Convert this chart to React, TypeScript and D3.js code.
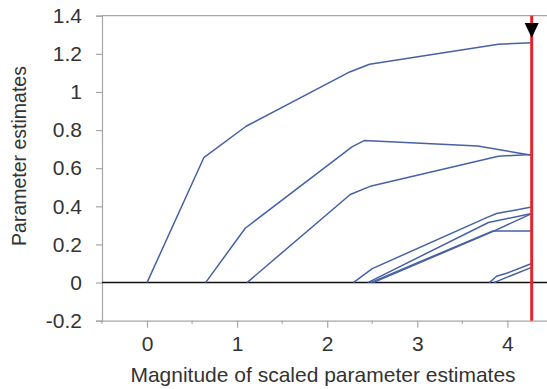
import React, { useRef, useEffect } from 'react';
import * as d3 from 'd3';

// lasso path of each coefficient: [magnitude, estimate]
const pathA: [number, number][] = [[0, 0], [0.63, 0.655], [1.1, 0.82], [2.25, 1.105], [2.47, 1.145], [3.9, 1.25], [4.27, 1.258]];
const pathB: [number, number][] = [[0.65, 0], [1.09, 0.285], [2.275, 0.712], [2.41, 0.745], [3.67, 0.717], [4.27, 0.668]];
const pathC: [number, number][] = [[1.11, 0], [2.256, 0.462], [2.49, 0.507], [3.9, 0.663], [4.27, 0.672]];
const pathD: [number, number][] = [[2.29, 0], [2.5, 0.073], [3.77, 0.341], [3.88, 0.362], [4.27, 0.397]];
const pathE: [number, number][] = [[2.45, 0], [3.79, 0.315], [4.27, 0.362]];
const pathF: [number, number][] = [[2.48, 0], [3.84, 0.271], [4.27, 0.271]];
const pathG: [number, number][] = [[2.51, 0], [3.83, 0.266], [4.27, 0.362]];
const pathH: [number, number][] = [[3.8, 0], [3.88, 0.033], [4.0, 0.05], [4.27, 0.1]];
const pathI: [number, number][] = [[3.85, 0], [4.27, 0.08]];
const paths = [pathA, pathB, pathC, pathD, pathE, pathF, pathG, pathH, pathI];

const yTicks = [-0.2, 0, 0.2, 0.4, 0.6, 0.8, 1, 1.2, 1.4];
const xMajor = [0, 1, 2, 3, 4];
const xMinor = [-0.5, 0.5, 1.5, 2.5, 3.5];
const selected = 4.27;

const W = 547;
const H = 389;

export default function App() {
  const svgRef = useRef<SVGSVGElement>(null);

  useEffect(() => {
    const svg = d3.select(svgRef.current);
    svg.selectAll('*').remove();

    const x = d3.scaleLinear().domain([-0.5, 4.44]).range([102, 547]);
    const y = d3.scaleLinear().domain([-0.2, 1.4]).range([320.7, 15.7]);
    const axisColor = '#a6a6a6';
    const textColor = '#333';
    const font = 'Liberation Sans, Arial, sans-serif';

    // top border
    svg.append('line')
      .attr('x1', x(-0.5)).attr('x2', W)
      .attr('y1', y(1.4)).attr('y2', y(1.4))
      .attr('stroke', axisColor).attr('stroke-width', 1.2);

    // y axis
    const yAxis = svg.append('g')
      .attr('transform', `translate(${x(-0.5)},0)`)
      .call(d3.axisLeft(y).tickValues(yTicks).tickSize(6).tickPadding(14).tickFormat(d => String(+d)));
    yAxis.selectAll('.domain, .tick line').attr('stroke', axisColor).attr('stroke-width', 1.2);
    yAxis.selectAll('text')
      .attr('fill', textColor).style('font-size', '21px').style('font-family', font);

    // x axis
    const xAxis = svg.append('g')
      .attr('transform', `translate(0,${y(-0.2)})`)
      .call(d3.axisBottom(x).tickValues(xMajor).tickSize(7).tickPadding(8).tickSizeOuter(0).tickFormat(d => String(+d)));
    xAxis.selectAll('.domain, .tick line').attr('stroke', axisColor).attr('stroke-width', 1.2);
    xAxis.selectAll('text')
      .attr('fill', textColor).style('font-size', '21px').style('font-family', font);
    xAxis.selectAll('.minor')
      .data(xMinor)
      .enter()
      .append('line')
      .attr('x1', d => x(d)).attr('x2', d => x(d))
      .attr('y1', 0).attr('y2', 3)
      .attr('stroke', axisColor).attr('stroke-width', 1.2);

    // zero line
    svg.append('line')
      .attr('x1', x(-0.5)).attr('x2', W)
      .attr('y1', y(0)).attr('y2', y(0))
      .attr('stroke', '#111').attr('stroke-width', 1.5);

    // coefficient paths
    const line = d3.line<[number, number]>().x(d => x(d[0])).y(d => y(d[1]));
    svg.selectAll('.coef')
      .data(paths)
      .enter()
      .append('path')
      .attr('d', d => line(d))
      .attr('fill', 'none')
      .attr('stroke', '#4761a5')
      .attr('stroke-width', 1.5)
      .attr('stroke-linejoin', 'round');

    // selected model
    svg.append('line')
      .attr('x1', x(selected)).attr('x2', x(selected))
      .attr('y1', y(1.4)).attr('y2', y(-0.2))
      .attr('stroke', '#e3262d').attr('stroke-width', 3);

    const tx = x(selected);
    const ty = 23;
    svg.append('path')
      .attr('d', `M${tx - 7},${ty} L${tx + 7},${ty} L${tx},${ty + 15} Z`)
      .attr('fill', '#000');

    // axis titles
    svg.append('text')
      .attr('x', 323).attr('y', 382)
      .attr('text-anchor', 'middle')
      .attr('fill', textColor)
      .style('font-size', '21px').style('font-family', font)
      .text('Magnitude of scaled parameter estimates');

    svg.append('text')
      .attr('transform', 'translate(26,156) rotate(-90)')
      .attr('text-anchor', 'middle')
      .attr('fill', textColor)
      .style('font-size', '19.5px').style('font-family', font)
      .text('Parameter estimates');
  }, []);

  return (
    <svg
      ref={svgRef}
      width={W}
      height={H}
      style={{ position: 'absolute', left: 0, top: 0, background: '#fff' }}
    />
  );
}
